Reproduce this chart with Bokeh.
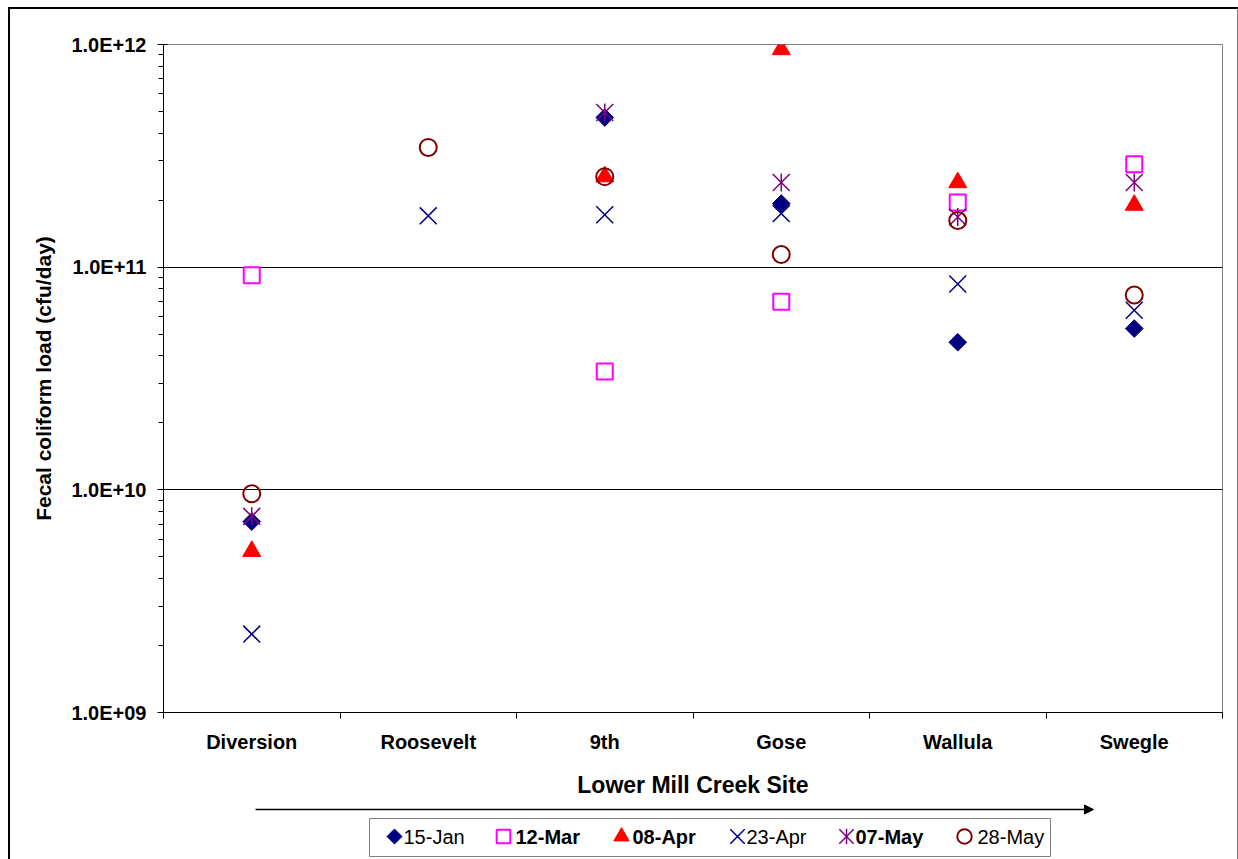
import math

from bokeh.core.properties import value
from bokeh.embed import file_html
from bokeh.layouts import column
from bokeh.models import (Arrow, CustomJSTickFormatter, FixedTicker,
                          NormalHead, Range1d)
from bokeh.plotting import figure
from bokeh.resources import INLINE

NAN = float("nan")

# Sampling sites along Lower Mill Creek, upstream to downstream
sites = ["Diversion", "Roosevelt", "9th", "Gose", "Wallula", "Swegle"]

# Sampling dates
dates = ["15-Jan", "12-Mar", "08-Apr", "23-Apr", "07-May", "28-May"]

# Fecal coliform load (cfu/day) per site for each sampling date
load_15jan = [7.2e9, NAN, 4.7e11, 1.93e11, 4.6e10, 5.3e10]
load_12mar = [9.2e10, NAN, 3.4e10, 7.0e10, 1.95e11, 2.9e11]
load_08apr = [5.3e9, NAN, 2.55e11, 9.5e11, 2.4e11, 1.9e11]
load_23apr = [2.25e9, 1.7e11, 1.72e11, 1.74e11, 8.4e10, 6.4e10]
load_07may = [7.6e9, NAN, 4.95e11, 2.4e11, 1.68e11, 2.4e11]
load_28may = [9.6e9, 3.45e11, 2.55e11, 1.14e11, 1.62e11, 7.5e10]

# Decades shown on the logarithmic load axis
decades = [1e9, 1e10, 1e11, 1e12]

series = [load_15jan, load_12mar, load_08apr, load_23apr, load_07may, load_28may]

FONT = "Liberation Sans"
NAVY = "#000080"
MAGENTA = "#FF00FF"
RED = "#FF0000"
PURPLE = "#800080"
MAROON = "#800000"

# Marker styling per date; a list of layers lets the "star" combine an x and a bar
styles = [
    [dict(marker="square", size=12.5, angle=math.pi / 4, fill_color=NAVY, line_color=NAVY, line_width=1)],
    [dict(marker="square", size=16, fill_color=None, line_color=MAGENTA, line_width=2)],
    [dict(marker="triangle", size=18, fill_color=RED, line_color=RED, line_width=1)],
    [dict(marker="x", size=24, line_color=NAVY, line_width=1.5)],
    [dict(marker="x", size=24, line_color=PURPLE, line_width=1.5),
     dict(marker="dash", size=18, angle=math.pi / 2, line_color=PURPLE, line_width=1.5)],
    [dict(marker="circle", size=17, fill_color=None, line_color=MAROON, line_width=2)],
]
bold_labels = [False, True, True, False, True, False]

xs = list(range(1, len(sites) + 1))

# The page is framed by a border; content starts at (10, 9)
OFF_X, OFF_Y = 10, 9
PAGE_W = 1237
FRAME_L, FRAME_R, FRAME_T, FRAME_B = 163, 1222, 44, 712
STRIP_TOP, PAGE_H = 800, 859

p = figure(
    width=PAGE_W - OFF_X, height=STRIP_TOP - OFF_Y,
    y_axis_type="log",
    x_range=Range1d(0.5, len(sites) + 0.5),
    y_range=Range1d(decades[0], decades[-1]),
    output_backend="svg", toolbar_location=None,
    min_border_left=FRAME_L - OFF_X, min_border_right=PAGE_W - FRAME_R,
    min_border_top=FRAME_T - OFF_Y, min_border_bottom=STRIP_TOP - FRAME_B,
    background_fill_color="white", border_fill_color="white",
    outline_line_color="#808080", outline_line_width=1,
)

for vals, layers in zip(series, styles):
    for st in layers:
        p.scatter(x=xs, y=vals, **st)

# x axis: site names centred in each band, tick marks on the band edges
p.xaxis.ticker = FixedTicker(ticks=xs, minor_ticks=[i + 0.5 for i in range(len(sites) + 1)])
p.xaxis.formatter = CustomJSTickFormatter(
    args=dict(names=sites), code="return names[Math.round(tick) - 1] || '';")
p.xaxis.major_tick_line_color = None
p.xaxis.minor_tick_line_color = "black"
p.xaxis.minor_tick_out = 6
p.xaxis.minor_tick_in = 0
p.xaxis.axis_line_color = "black"
p.xaxis.major_label_text_font = FONT
p.xaxis.major_label_text_font_style = "bold"
p.xaxis.major_label_text_font_size = "20px"
p.xaxis.major_label_text_color = "black"
p.xaxis.major_label_standoff = 12
p.xaxis.axis_label = "Lower Mill Creek Site"
p.xaxis.axis_label_text_font = FONT
p.xaxis.axis_label_text_font_style = "bold"
p.xaxis.axis_label_text_font_size = "23px"
p.xaxis.axis_label_text_color = "black"
p.xaxis.axis_label_standoff = 16
p.xgrid.visible = False

# y axis: decades labelled in scientific notation, log minor ticks outside
p.yaxis.ticker = FixedTicker(
    ticks=decades,
    minor_ticks=[k * d for d in decades[:-1] for k in range(2, 10)])
p.yaxis.formatter = CustomJSTickFormatter(code="""
    const e = Math.round(Math.log10(tick));
    return "1.0E+" + (e < 10 ? "0" + e : "" + e);
""")
p.yaxis.axis_line_color = "black"
p.yaxis.major_tick_line_color = "black"
p.yaxis.major_tick_out = 6
p.yaxis.major_tick_in = 4
p.yaxis.minor_tick_line_color = "black"
p.yaxis.minor_tick_out = 5
p.yaxis.minor_tick_in = 0
p.yaxis.major_label_text_font = FONT
p.yaxis.major_label_text_font_style = "bold"
p.yaxis.major_label_text_font_size = "20px"
p.yaxis.major_label_text_color = "black"
p.yaxis.major_label_standoff = 11
p.yaxis.axis_label = "Fecal coliform load (cfu/day)"
p.yaxis.axis_label_text_font = FONT
p.yaxis.axis_label_text_font_style = "bold"
p.yaxis.axis_label_text_font_size = "21px"
p.yaxis.axis_label_text_color = "black"
p.yaxis.axis_label_standoff = 13
p.ygrid.grid_line_color = "black"
p.ygrid.grid_line_width = 1

# strip under the chart: direction arrow and legend (data units = page pixels)
q = figure(
    width=PAGE_W - OFF_X, height=PAGE_H - STRIP_TOP,
    x_range=Range1d(FRAME_L, FRAME_R), y_range=Range1d(PAGE_H, STRIP_TOP),
    output_backend="svg", toolbar_location=None,
    x_axis_location=None, y_axis_location=None,
    min_border_left=FRAME_L - OFF_X, min_border_right=PAGE_W - FRAME_R,
    min_border_top=0, min_border_bottom=0,
    outline_line_color=None,
    background_fill_color="white", border_fill_color="white",
)
q.grid.visible = False

q.add_layout(Arrow(end=NormalHead(size=9, fill_color="black", line_color="black"),
                   x_start=255, y_start=809, x_end=1093, y_end=809,
                   line_color="black", line_width=1.5))

q.quad(left=369, right=1050, top=818, bottom=856,
       fill_color="white", line_color="#808080", line_width=1)

marker_x = [394, 503, 621, 737, 846, 964]
label_x = [403, 515, 632, 746, 855, 977]
legend_y = 836
for mx, layers in zip(marker_x, styles):
    for st in layers:
        st2 = dict(st)
        st2["size"] = st2["size"] * 0.85
        q.scatter(x=[mx], y=[legend_y], **st2)

q.text(x=label_x, y=[legend_y] * len(dates), text=dates,
       text_font=value(FONT), text_font_size="20px",
       text_font_style=["bold" if b else "normal" for b in bold_labels],
       text_baseline="middle", text_align="left", text_color="black")

layout = column(
    p, q, spacing=0,
    margin=(OFF_Y - 2, 0, 0, OFF_X - 2),
    styles={"border-left": "2px solid black",
            "border-top": "2px solid black",
            "border-right": "1px solid #808080"},
)

with open("out.html", "w") as f:
    f.write(file_html(layout, INLINE))
